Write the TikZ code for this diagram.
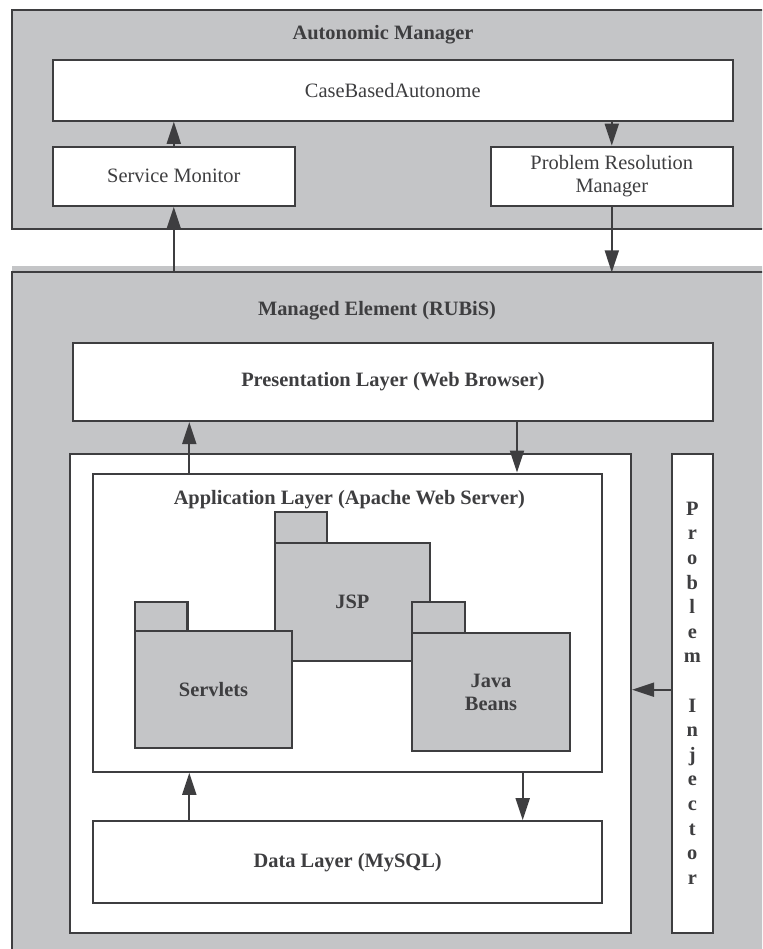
\documentclass[tikz,border=0pt]{standalone}
\usepackage{fontspec}
\setmainfont{Liberation Serif}
\usetikzlibrary{arrows.meta}
\definecolor{panelgray}{RGB}{196,197,199}
\definecolor{inkgray}{RGB}{62,62,64}

\begin{document}
\begin{tikzpicture}[x=0.5pt, y=-0.5pt,
    font=\fontsize{10.2}{11.8}\selectfont,
    wh/.style 2 args={minimum width=#1*0.5pt, minimum height=#2*0.5pt},
    panel/.style={draw=inkgray, line width=1.1pt, fill=panelgray},
    box/.style={draw=inkgray, line width=1.1pt, fill=white, inner sep=0pt, text=inkgray},
    pkg/.style={draw=inkgray, line width=1.1pt, fill=panelgray, inner sep=0pt, text=inkgray, font=\fontsize{10.2}{11.5}\selectfont\bfseries},
    title/.style={text=inkgray, font=\fontsize{10.2}{11.8}\selectfont\bfseries},
    flow/.style={draw=inkgray, line width=1pt, -{Triangle[length=11pt, width=7pt]}}]

    % Rahmen
    \useasboundingbox (0,0) rectangle (762,949);
    \clip (0,0) rectangle (762,949);

    % Autonomic Manager
    \draw[panel] (12,10) rectangle (800,229);
    \node[title] (amtitle) at (383,35) {Autonomic Manager};
    \node[box, wh={680.3}{60.7}] (cba) at (392.8,90.3) {CaseBasedAutonome};
    \node[box, wh={242.3}{59}] (sm) at (173.8,176.2) {Service Monitor};
    \node[box, wh={242.3}{59}, align=center] (prm) at (611.8,176.2) {Problem Resolution\\Manager};

    % Managed Element (RUBiS)
    \fill[panelgray] (12,266) rectangle (800,272.3);
    \draw[panel] (12,272.3) rectangle (800,1000);
    \coordinate (metop) at (0,272.3);
    \node[title] (metitle) at (377,310.7) {Managed Element (RUBiS)};
    \node[box, wh={639.4}{78.3}, font=\fontsize{10.2}{11.8}\selectfont\bfseries] (pl) at (393,381.8) {Presentation Layer (Web Browser)};

    % Anwendungsbereich
    \node[box, wh={561}{479}] (appbox) at (350.5,693.2) {};
    \node[box, wh={508.7}{298}] (al) at (347.7,622.7) {};
    \node[title] (altitle) at (349.4,500) {Application Layer (Apache Web Server)};
    \node[box, wh={508.7}{82}, font=\fontsize{10.2}{11.8}\selectfont\bfseries] (dl) at (347.7,862.3) {Data Layer (MySQL)};

    % Pakete
    \node[pkg, wh={52.1}{31.6}] (jsptab) at (301.15,527.5) {};
    \node[pkg, wh={154.6}{117.4}] (jsp) at (352.4,602) {JSP};
    \node[pkg, wh={52.8}{29}] (srvtab) at (161.1,616.8) {};
    \node[pkg, wh={157.6}{117}] (srv) at (213.5,689.8) {Servlets};
    \node[pkg, wh={52.5}{31}] (jbtab) at (438.35,617.8) {};
    \node[pkg, wh={157.7}{117.7}, align=center] (jb) at (491,692.2) {Java\\Beans};

    % Problem Injector
    \node[box, wh={40.7}{479}, align=center, font=\fontsize{10.2}{12.3}\selectfont\bfseries] (pi) at (692.3,693.2) {P\\r\\o\\b\\l\\e\\m\\[12.3pt]I\\n\\j\\e\\c\\t\\o\\r};

    % Pfeile
    \coordinate (upx) at (189.3,0);
    \coordinate (dnx) at (517,0);
    \coordinate (dny) at (522.7,0);
    \draw[flow] (sm.north) -- (sm.north |- cba.south);
    \draw[flow] (prm.north |- cba.south) -- (prm.north);
    \draw[flow] (sm.south |- metop) -- (sm.south);
    \draw[flow] (prm.south) -- (prm.south |- metop);
    \draw[flow] (upx |- al.north) -- (upx |- pl.south);
    \draw[flow] (dnx |- pl.south) -- (dnx |- al.north);
    \draw[flow] (upx |- dl.north) -- (upx |- al.south);
    \draw[flow] (dny |- al.south) -- (dny |- dl.north);
    \draw[flow] ([yshift=1.75pt]pi.west) -- ([yshift=1.75pt]appbox.east);
\end{tikzpicture}
\end{document}
